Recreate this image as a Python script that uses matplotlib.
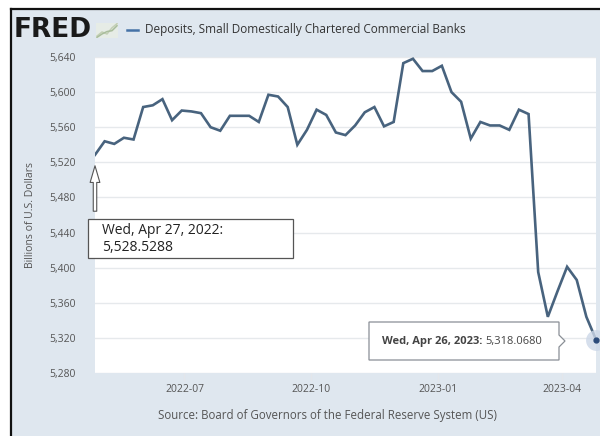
import numpy as np
import pandas as pd
import matplotlib
matplotlib.use("Agg")
import matplotlib.pyplot as plt
from matplotlib.patches import Rectangle, Polygon, FancyArrowPatch
from matplotlib.lines import Line2D
from matplotlib.ticker import FuncFormatter

# Weekly deposits, small domestically chartered commercial banks (billions USD)
dates = pd.date_range("2022-04-27", "2023-04-26", freq="7D")
deposits = [5528.5288, 5544, 5541, 5548, 5546, 5583, 5585, 5592, 5568, 5579,
            5578, 5576, 5560, 5556, 5573, 5573, 5573, 5566, 5597, 5595,
            5583, 5540, 5557, 5580, 5574, 5554, 5551, 5562, 5577, 5583,
            5561, 5566, 5633, 5638, 5624, 5624, 5630, 5600, 5589, 5547,
            5566, 5562, 5562, 5557, 5580, 5575, 5395, 5344, 5373, 5401,
            5386, 5344, 5318.0680]
x_ticks = ["2022-07-01", "2022-10-01", "2023-01-01", "2023-04-01"]
x_tick_labels = ["2022-07", "2022-10", "2023-01", "2023-04"]
y_ticks = np.arange(5280, 5641, 40)

series_name = "Deposits, Small Domestically Chartered Commercial Banks"
source = "Source: Board of Governors of the Federal Reserve System (US)"
first_label = "Wed, Apr 27, 2022:\n5,528.5288"
last_date_label = "Wed, Apr 26, 2023:"
last_value_label = "5,318.0680"

BG = "#dfe7ef"
LINE = "#48637e"
TXT = "#555555"
W, H = 600, 436

plt.rcParams["font.family"] = ["Open Sans", "DejaVu Sans"]

fig = plt.figure(figsize=(6, 4.36), dpi=100)
fig.patch.set_facecolor("white")


def fx(px):
    return px / W


def fy(py):
    return 1 - py / H


# framed panel with the dark edge on top and left
fig.patches.append(Rectangle((fx(11), 0), 1 - fx(11), fy(9), transform=fig.transFigure,
                             facecolor=BG, edgecolor="none", zorder=-5))
fig.lines.append(Line2D([fx(11), 1], [fy(9), fy(9)], transform=fig.transFigure,
                        color="#111111", lw=1.6, zorder=-4))
fig.lines.append(Line2D([fx(11), fx(11)], [fy(9), 0], transform=fig.transFigure,
                        color="#111111", lw=1.6, zorder=-4))

ax = fig.add_axes([fx(95), fy(373), fx(596) - fx(95), (373 - 57) / H])
ax.set_facecolor("white")
ax.plot(dates, deposits, color=LINE, lw=1.9, solid_joinstyle="miter", zorder=3)

ax.set_ylim(5280, 5640)
ax.set_xlim(dates[0], dates[-1])
ax.set_yticks(y_ticks)
ax.yaxis.set_major_formatter(FuncFormatter(lambda v, _: f"{v:,.0f}"))
ax.set_xticks(pd.to_datetime(x_ticks))
ax.set_xticklabels(x_tick_labels)
ax.grid(axis="y", color="#e6e9ec", lw=1.0)
ax.set_axisbelow(True)
ax.tick_params(axis="y", length=0, pad=14, labelsize=7.5, labelcolor=TXT)
ax.tick_params(axis="x", length=6, width=0.8, color="#e3e6ea", pad=2,
               labelsize=7.5, labelcolor=TXT)
for s in ax.spines.values():
    s.set_visible(False)
ax.set_ylabel("Billions of U.S. Dollars", fontsize=7.5, color=TXT)
ax.yaxis.set_label_coords(-0.118, 0.5)

# last point with halo
ax.plot(dates[-1], deposits[-1], "o", ms=15, color="#ccd7e8", alpha=0.8,
        clip_on=False, zorder=4, mec="none")
ax.plot(dates[-1], deposits[-1], "o", ms=3.5, color="#2a4a7a", clip_on=False, zorder=5)

# hollow arrow pointing to the first value
arrow = FancyArrowPatch((fx(95), fy(214)), (fx(95), fy(163)), transform=fig.transFigure,
                        arrowstyle="simple,head_length=12,head_width=7,tail_width=2.5",
                        mutation_scale=1, facecolor="white", edgecolor="#555555",
                        lw=0.8, zorder=6)
fig.patches.append(arrow)

# callout box for the first value
fig.patches.append(Rectangle((fx(88), fy(258)), fx(293) - fx(88), (258 - 219) / H,
                             transform=fig.transFigure, facecolor="white",
                             edgecolor="#555555", lw=0.9, zorder=6))
fig.text(fx(102), fy(239), first_label, fontsize=10, color="#222222",
         va="center", ha="left", linespacing=1.25, zorder=7)

# tooltip for the last value
tip = Polygon([(fx(369), fy(322)), (fx(559), fy(322)), (fx(559), fy(335)),
               (fx(565), fy(341)), (fx(559), fy(347)), (fx(559), fy(360)),
               (fx(369), fy(360))], closed=True, transform=fig.transFigure,
              facecolor="white", edgecolor="#8a8f96", lw=0.9, zorder=6)
fig.patches.append(tip)
t1 = fig.text(fx(382), fy(341), last_date_label, fontsize=8, fontweight="bold",
              color="#444444", va="center", ha="left", zorder=7)
fig.canvas.draw()
bb = t1.get_window_extent()
fig.text(bb.x1 / W + fx(3), fy(341), last_value_label, fontsize=8,
         color="#444444", va="center", ha="left", zorder=7)

# header: logo, small icon and legend entry
fig.text(fx(14), fy(30), "FRED", fontsize=19, fontweight="heavy", color="#1a1a1a",
         va="center", ha="left", family="DejaVu Sans")
icon = fig.add_axes([fx(96), fy(38), fx(22), 15 / H])
icon_x = [0, 1, 2, 3, 4]
icon_a = [0.5, 1.5, 1.0, 2.5, 3.5]
icon_b = [0.2, 1.0, 1.6, 1.8, 3.0]
icon.plot(icon_x, icon_a, color="#c3cfb5", lw=1.1)
icon.plot(icon_x, icon_b, color="#a9bd9c", lw=1.1)
icon.set_facecolor("#e6ece6")
icon.set_xticks([])
icon.set_yticks([])
for s in icon.spines.values():
    s.set_visible(False)
fig.lines.append(Line2D([fx(127), fx(138)], [fy(30), fy(30)], transform=fig.transFigure,
                        color="#4572a7", lw=1.8))
fig.text(fx(145), fy(30), series_name, fontsize=8.5, color="#333333",
         va="center", ha="left")

fig.text(fx(327), fy(415), source, fontsize=8.3, color=TXT, va="center", ha="center")

fig.savefig("out.png", dpi=100, facecolor=fig.get_facecolor())
